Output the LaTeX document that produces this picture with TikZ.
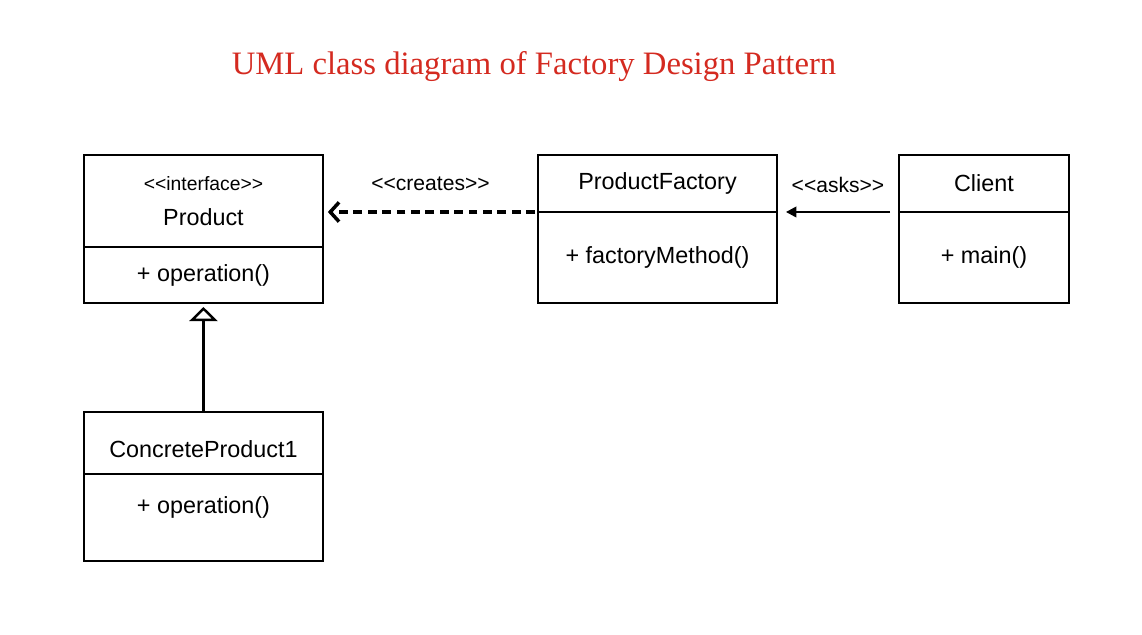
\documentclass[tikz,border=0pt]{standalone}
\usepackage{fontspec}
\setmainfont{Liberation Sans}
\newfontfamily\titlefont{Liberation Serif}
\usetikzlibrary{arrows.meta,positioning}
\definecolor{titlered}{RGB}{212,42,32}
\tikzset{
  classpart/.style={draw, line width=1.4pt, inner sep=0pt, outer sep=0pt,
    font=\fontsize{13.3}{16}\selectfont},
  stereo/.style={font=\fontsize{12}{14}\selectfont},
  creates/.style={line width=2.1pt, dash pattern=on 5pt off 3.2pt,
    -{Straight Barb[length=5pt, width=11pt, line width=2pt]}},
  asks/.style={line width=1.3pt, -{Triangle[length=6pt, width=6pt]}},
  realize/.style={line width=1.4pt, -{Triangle[open, length=8pt, width=16pt, fill=white]}}
}
\begin{document}
\begin{tikzpicture}[x=0.02cm, y=-0.02cm]
\useasboundingbox (0,0) rectangle (1142,635);
% Title
\node[text=titlered, font=\titlefont\fontsize{18.6}{22}\selectfont] (title) at (534,67) {UML class diagram of Factory Design Pattern};

% Product
\node[classpart, align=center, minimum width=4.78cm, minimum height=1.84cm, anchor=north west] (prodhead) at (84,155)
  {{\fontsize{11}{13}\selectfont <{}<interface>{}>}\\[4pt]Product};
\node[classpart, minimum width=4.78cm, minimum height=1.12cm, below=0pt of prodhead] (prodbody) {+ operation()};

% ConcreteProduct1
\node[classpart, minimum width=4.78cm, minimum height=1.24cm, anchor=north west] (conchead) at (84,412) {\raisebox{-0.24cm}[\height]{ConcreteProduct1}};
\node[classpart, minimum width=4.78cm, minimum height=1.74cm, below=0pt of conchead] (concbody) {\raisebox{0.48cm}{+ operation()}};

% ProductFactory
\node[classpart, minimum width=4.78cm, minimum height=1.14cm, anchor=north west] (facthead) at (538,155) {ProductFactory};
\node[classpart, minimum width=4.78cm, minimum height=1.82cm, below=0pt of facthead] (factbody) {+ factoryMethod()};

% Client
\node[classpart, minimum width=3.4cm, minimum height=1.14cm, anchor=north west] (clienthead) at (899,155) {Client};
\node[classpart, minimum width=3.4cm, minimum height=1.82cm, below=0pt of clienthead] (clientbody) {+ main()};

% Relations
\draw[creates, shorten <=1.7pt, shorten >=2.8pt] (facthead.south west) -- (prodhead.east |- facthead.south west)
  node[midway, above=8pt, stereo] (createslbl) {<{}<creates>{}>};
\draw[asks, shorten <=5.1pt, shorten >=5.1pt] (clienthead.south west) -- (facthead.south east)
  node[midway, above=7pt, stereo] (askslbl) {<{}<asks>{}>};
\draw[realize, shorten >=2.3pt] (conchead.north) -- (prodbody.south);
\end{tikzpicture}
\end{document}
